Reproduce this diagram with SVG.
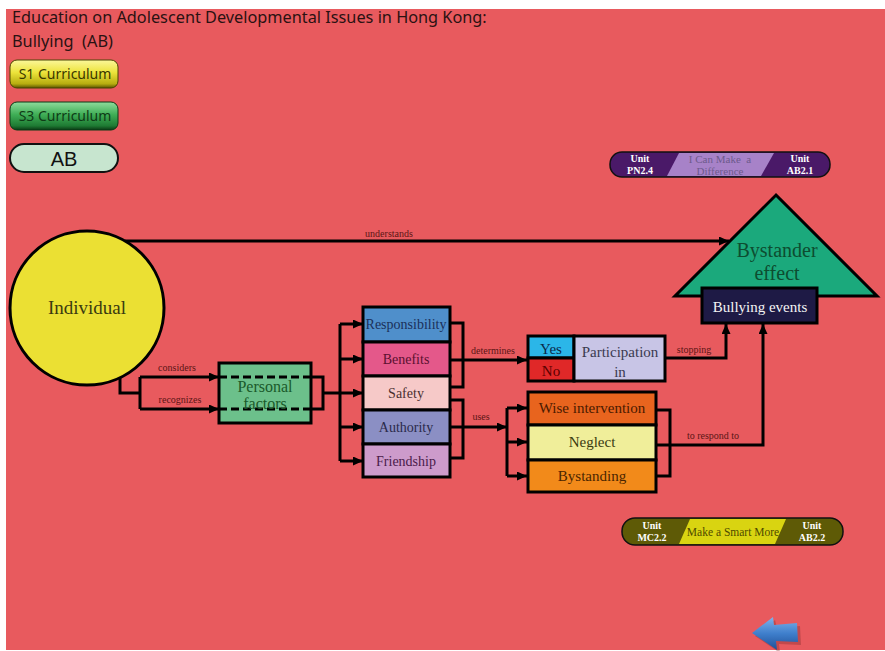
<svg xmlns="http://www.w3.org/2000/svg" width="885" height="651" viewBox="0 0 885 651">
  <defs>
    <style>
      .title { font-family: "Noto Sans", "Open Sans", sans-serif; font-size: 16.3px; fill: #2a1212; white-space: pre; }
      .btn { font-family: "Noto Sans", "Open Sans", sans-serif; font-size: 14px; }
      .node { stroke: #000; stroke-width: 3; }
      .nt { font-family: "Liberation Serif", "Times New Roman", serif; font-size: 14px; text-anchor: middle; }
      .lbl { font-family: "Liberation Serif", "Times New Roman", serif; font-size: 10px; fill: #5a1515; text-anchor: middle; }
      .wire { fill: none; stroke: #000; stroke-width: 3; }
      .arrow { marker-end: url(#head); }
      .unit { font-family: "Liberation Serif", "Times New Roman", serif; font-size: 10px; font-weight: bold; fill: #fff; text-anchor: middle; }
      .mid { font-family: "Liberation Serif", "Times New Roman", serif; text-anchor: middle; white-space: pre; }
    </style>
    <marker id="head" markerUnits="userSpaceOnUse" markerWidth="10" markerHeight="9" refX="10" refY="4.5" orient="auto">
      <path d="M0,0 L10,4.5 L0,9 z" fill="#000"/>
    </marker>
    <linearGradient id="gYellow" x1="0" y1="0" x2="0" y2="1">
      <stop offset="0" stop-color="#fbf79a"/>
      <stop offset="0.45" stop-color="#ece33a"/>
      <stop offset="0.85" stop-color="#b7ad10"/>
      <stop offset="1" stop-color="#5a5400"/>
    </linearGradient>
    <linearGradient id="gGreen" x1="0" y1="0" x2="0" y2="1">
      <stop offset="0" stop-color="#8fdc9c"/>
      <stop offset="0.45" stop-color="#3fae56"/>
      <stop offset="0.85" stop-color="#1e7a33"/>
      <stop offset="1" stop-color="#0a3a14"/>
    </linearGradient>
    <linearGradient id="gBlue" x1="0" y1="0" x2="0" y2="1">
      <stop offset="0" stop-color="#7fb3ec"/>
      <stop offset="0.5" stop-color="#3f7fcc"/>
      <stop offset="1" stop-color="#1f4f96"/>
    </linearGradient>
  </defs>

  <!-- page -->
  <rect x="0" y="0" width="885" height="651" fill="#ffffff"/>
  <rect x="6" y="9" width="879" height="641" fill="#e85a5e"/>

  <!-- heading -->
  <text class="title" x="12" y="23">Education on Adolescent Developmental Issues in Hong Kong:</text>
  <text class="title" x="12" y="47">Bullying  (AB)</text>

  <!-- curriculum buttons -->
  <g id="btn-s1">
    <rect x="10" y="60" width="108" height="28" rx="7" fill="url(#gYellow)" stroke="#4a4500" stroke-width="1"/>
    <text class="btn" x="65" y="79" text-anchor="middle" fill="#3a3600">S1 Curriculum</text>
  </g>
  <g id="btn-s3">
    <rect x="10" y="102" width="108" height="28" rx="7" fill="url(#gGreen)" stroke="#0a3a14" stroke-width="1"/>
    <text class="btn" x="65" y="121" text-anchor="middle" fill="#0e3b16">S3 Curriculum</text>
  </g>
  <g id="btn-ab">
    <rect x="10" y="144" width="108" height="28" rx="14" fill="#c7e5cf" stroke="#111" stroke-width="2"/>
    <text x="64" y="166" text-anchor="middle" font-family="Liberation Sans, Arial, sans-serif" font-size="20" fill="#111">AB</text>
  </g>

  <!-- connectors -->
  <g id="connectors">
    <path class="wire arrow" d="M125,241 H729"/>
    <path class="wire" d="M120,370 V393 H140"/>
    <path class="wire" d="M140,377 V409"/>
    <path class="wire arrow" d="M140,377 H219"/>
    <path class="wire arrow" d="M140,409 H219"/>
    <path class="wire" d="M311,377 H323 V409 H311"/>
    <path class="wire" d="M323,393 H340"/>
    <path class="wire" d="M340,324 V461"/>
    <path class="wire arrow" d="M340,324 H363"/>
    <path class="wire arrow" d="M340,359 H363"/>
    <path class="wire arrow" d="M340,393 H363"/>
    <path class="wire arrow" d="M340,427 H363"/>
    <path class="wire arrow" d="M340,461 H363"/>
    <path class="wire" d="M450,323 H463 V387 H450"/>
    <path class="wire arrow" d="M450,360 H527"/>
    <path class="wire" d="M450,400 H463 V458 H450"/>
    <path class="wire arrow" d="M450,427 H507"/>
    <path class="wire" d="M507,408 V476"/>
    <path class="wire arrow" d="M507,408 H527"/>
    <path class="wire arrow" d="M507,442 H527"/>
    <path class="wire arrow" d="M507,476 H527"/>
    <path class="wire arrow" d="M665,358 H726 V324"/>
    <path class="wire" d="M656,410 H670 V476 H656"/>
    <path class="wire arrow" d="M656,445 H763 V324"/>
    <text class="lbl" x="389" y="237">understands</text>
    <text class="lbl" x="177" y="371">considers</text>
    <text class="lbl" x="180" y="403">recognizes</text>
    <text class="lbl" x="493" y="354">determines</text>
    <text class="lbl" x="481" y="420">uses</text>
    <text class="lbl" x="694" y="353">stopping</text>
    <text class="lbl" x="713" y="439">to respond to</text>
  </g>

  <!-- unit banner: PN2.4 / AB2.1 -->
  <g id="unit-pn24">
    <rect x="610" y="152" width="220" height="25" rx="12" fill="#4a1968" stroke="#111" stroke-width="1.5"/>
    <polygon points="679,153 774,153 761,176 667,176" fill="#a782c8"/>
    <text class="unit" x="640" y="162">Unit</text>
    <text class="unit" x="640" y="174">PN2.4</text>
    <text class="unit" x="800" y="162">Unit</text>
    <text class="unit" x="800" y="174">AB2.1</text>
    <text class="mid" x="720" y="163" style="font-size:11px" fill="#6d5a8c">I Can Make  a</text>
    <text class="mid" x="720" y="175" style="font-size:11px" fill="#6d5a8c">Difference</text>
  </g>

  <!-- unit banner: MC2.2 / AB2.2 -->
  <g id="unit-mc22">
    <rect x="622" y="518" width="221" height="27" rx="13" fill="#5e5a06" stroke="#111" stroke-width="1.5"/>
    <polygon points="690,519 786,519 775,544 679,544" fill="#d9d411"/>
    <text class="unit" x="652" y="529">Unit</text>
    <text class="unit" x="652" y="541">MC2.2</text>
    <text class="unit" x="812" y="529">Unit</text>
    <text class="unit" x="812" y="541">AB2.2</text>
    <text class="mid" x="733" y="536" style="font-size:11.5px" fill="#4e4a00">Make a Smart More</text>
  </g>

  <!-- nodes -->
  <g id="individual">
    <circle class="node" cx="87" cy="308" r="77" fill="#ebe033"/>
    <text class="nt" x="87" y="314" style="font-size:19px" fill="#3a3a10">Individual</text>
  </g>

  <g id="personal-factors">
    <rect class="node" x="219" y="363" width="92" height="60" fill="#6cc08b"/>
    <path d="M219,377 H311 M219,409 H311" stroke="#000" stroke-width="3" stroke-dasharray="8,4"/>
    <text class="nt" x="265" y="392" style="font-size:16px" fill="#1a5a2a">Personal</text>
    <text class="nt" x="265" y="409" style="font-size:16px" fill="#1a5a2a">factors</text>
  </g>

  <g id="responsibility">
    <rect class="node" x="363" y="307" width="87" height="35" fill="#4f8fcb"/>
    <text class="nt" x="406" y="329" fill="#1b2f5a">Responsibility</text>
  </g>
  <g id="benefits">
    <rect class="node" x="363" y="342" width="87" height="34" fill="#e4588a"/>
    <text class="nt" x="406" y="364" fill="#5a1030">Benefits</text>
  </g>
  <g id="safety">
    <rect class="node" x="363" y="376" width="87" height="34" fill="#f6c9c8"/>
    <text class="nt" x="406" y="398" fill="#4a3030">Safety</text>
  </g>
  <g id="authority">
    <rect class="node" x="363" y="410" width="87" height="34" fill="#8b8fc4"/>
    <text class="nt" x="406" y="432" fill="#2a2a4a">Authority</text>
  </g>
  <g id="friendship">
    <rect class="node" x="363" y="444" width="87" height="33" fill="#cd9bcb"/>
    <text class="nt" x="406" y="466" fill="#4a1a4a">Friendship</text>
  </g>

  <g id="participation">
    <rect class="node" x="528" y="336" width="46" height="22" fill="#2bb6e8"/>
    <rect class="node" x="528" y="358" width="46" height="23" fill="#e02828"/>
    <rect class="node" x="574" y="336" width="91" height="45" fill="#c8c5e6"/>
    <text class="nt" x="551" y="354" style="font-size:15px" fill="#0a2a4a">Yes</text>
    <text class="nt" x="551" y="376" style="font-size:15px" fill="#5a0000">No</text>
    <text class="nt" x="620" y="357" style="font-size:15px" fill="#3a3a50">Participation</text>
    <text class="nt" x="620" y="377" style="font-size:15px" fill="#3a3a50">in</text>
  </g>

  <g id="wise-intervention">
    <rect class="node" x="528" y="392" width="128" height="33" fill="#e8641e"/>
    <text class="nt" x="592" y="413" style="font-size:15px" fill="#4a1a00">Wise intervention</text>
  </g>
  <g id="neglect">
    <rect class="node" x="528" y="425" width="128" height="35" fill="#f0ee9a"/>
    <text class="nt" x="592" y="447" style="font-size:15px" fill="#3a3a10">Neglect</text>
  </g>
  <g id="bystanding">
    <rect class="node" x="528" y="460" width="128" height="32" fill="#f28a1a"/>
    <text class="nt" x="592" y="481" style="font-size:15px" fill="#4a2500">Bystanding</text>
  </g>

  <g id="bystander-effect">
    <polygon class="node" points="776,195 877,296 675,296" fill="#1ba97c"/>
    <text class="nt" x="777" y="257" style="font-size:20px" fill="#0d4d30">Bystander</text>
    <text class="nt" x="777" y="280" style="font-size:20px" fill="#0d4d30">effect</text>
  </g>
  <g id="bullying-events">
    <rect class="node" x="702" y="288" width="115" height="35" fill="#1e1a45"/>
    <text class="nt" x="760" y="312" style="font-size:15px" fill="#f4f4f4">Bullying events</text>
  </g>

  <!-- back button -->
  <g id="back-arrow">
    <polygon points="755,636 775,620 777,628 800,626 801,645 779,644 780,653" fill="#7a2a2a" opacity="0.35"/>
    <polygon points="752,633 773,617 774,625 797,623 798,642 776,641 777,650" fill="url(#gBlue)"/>
  </g>
</svg>
